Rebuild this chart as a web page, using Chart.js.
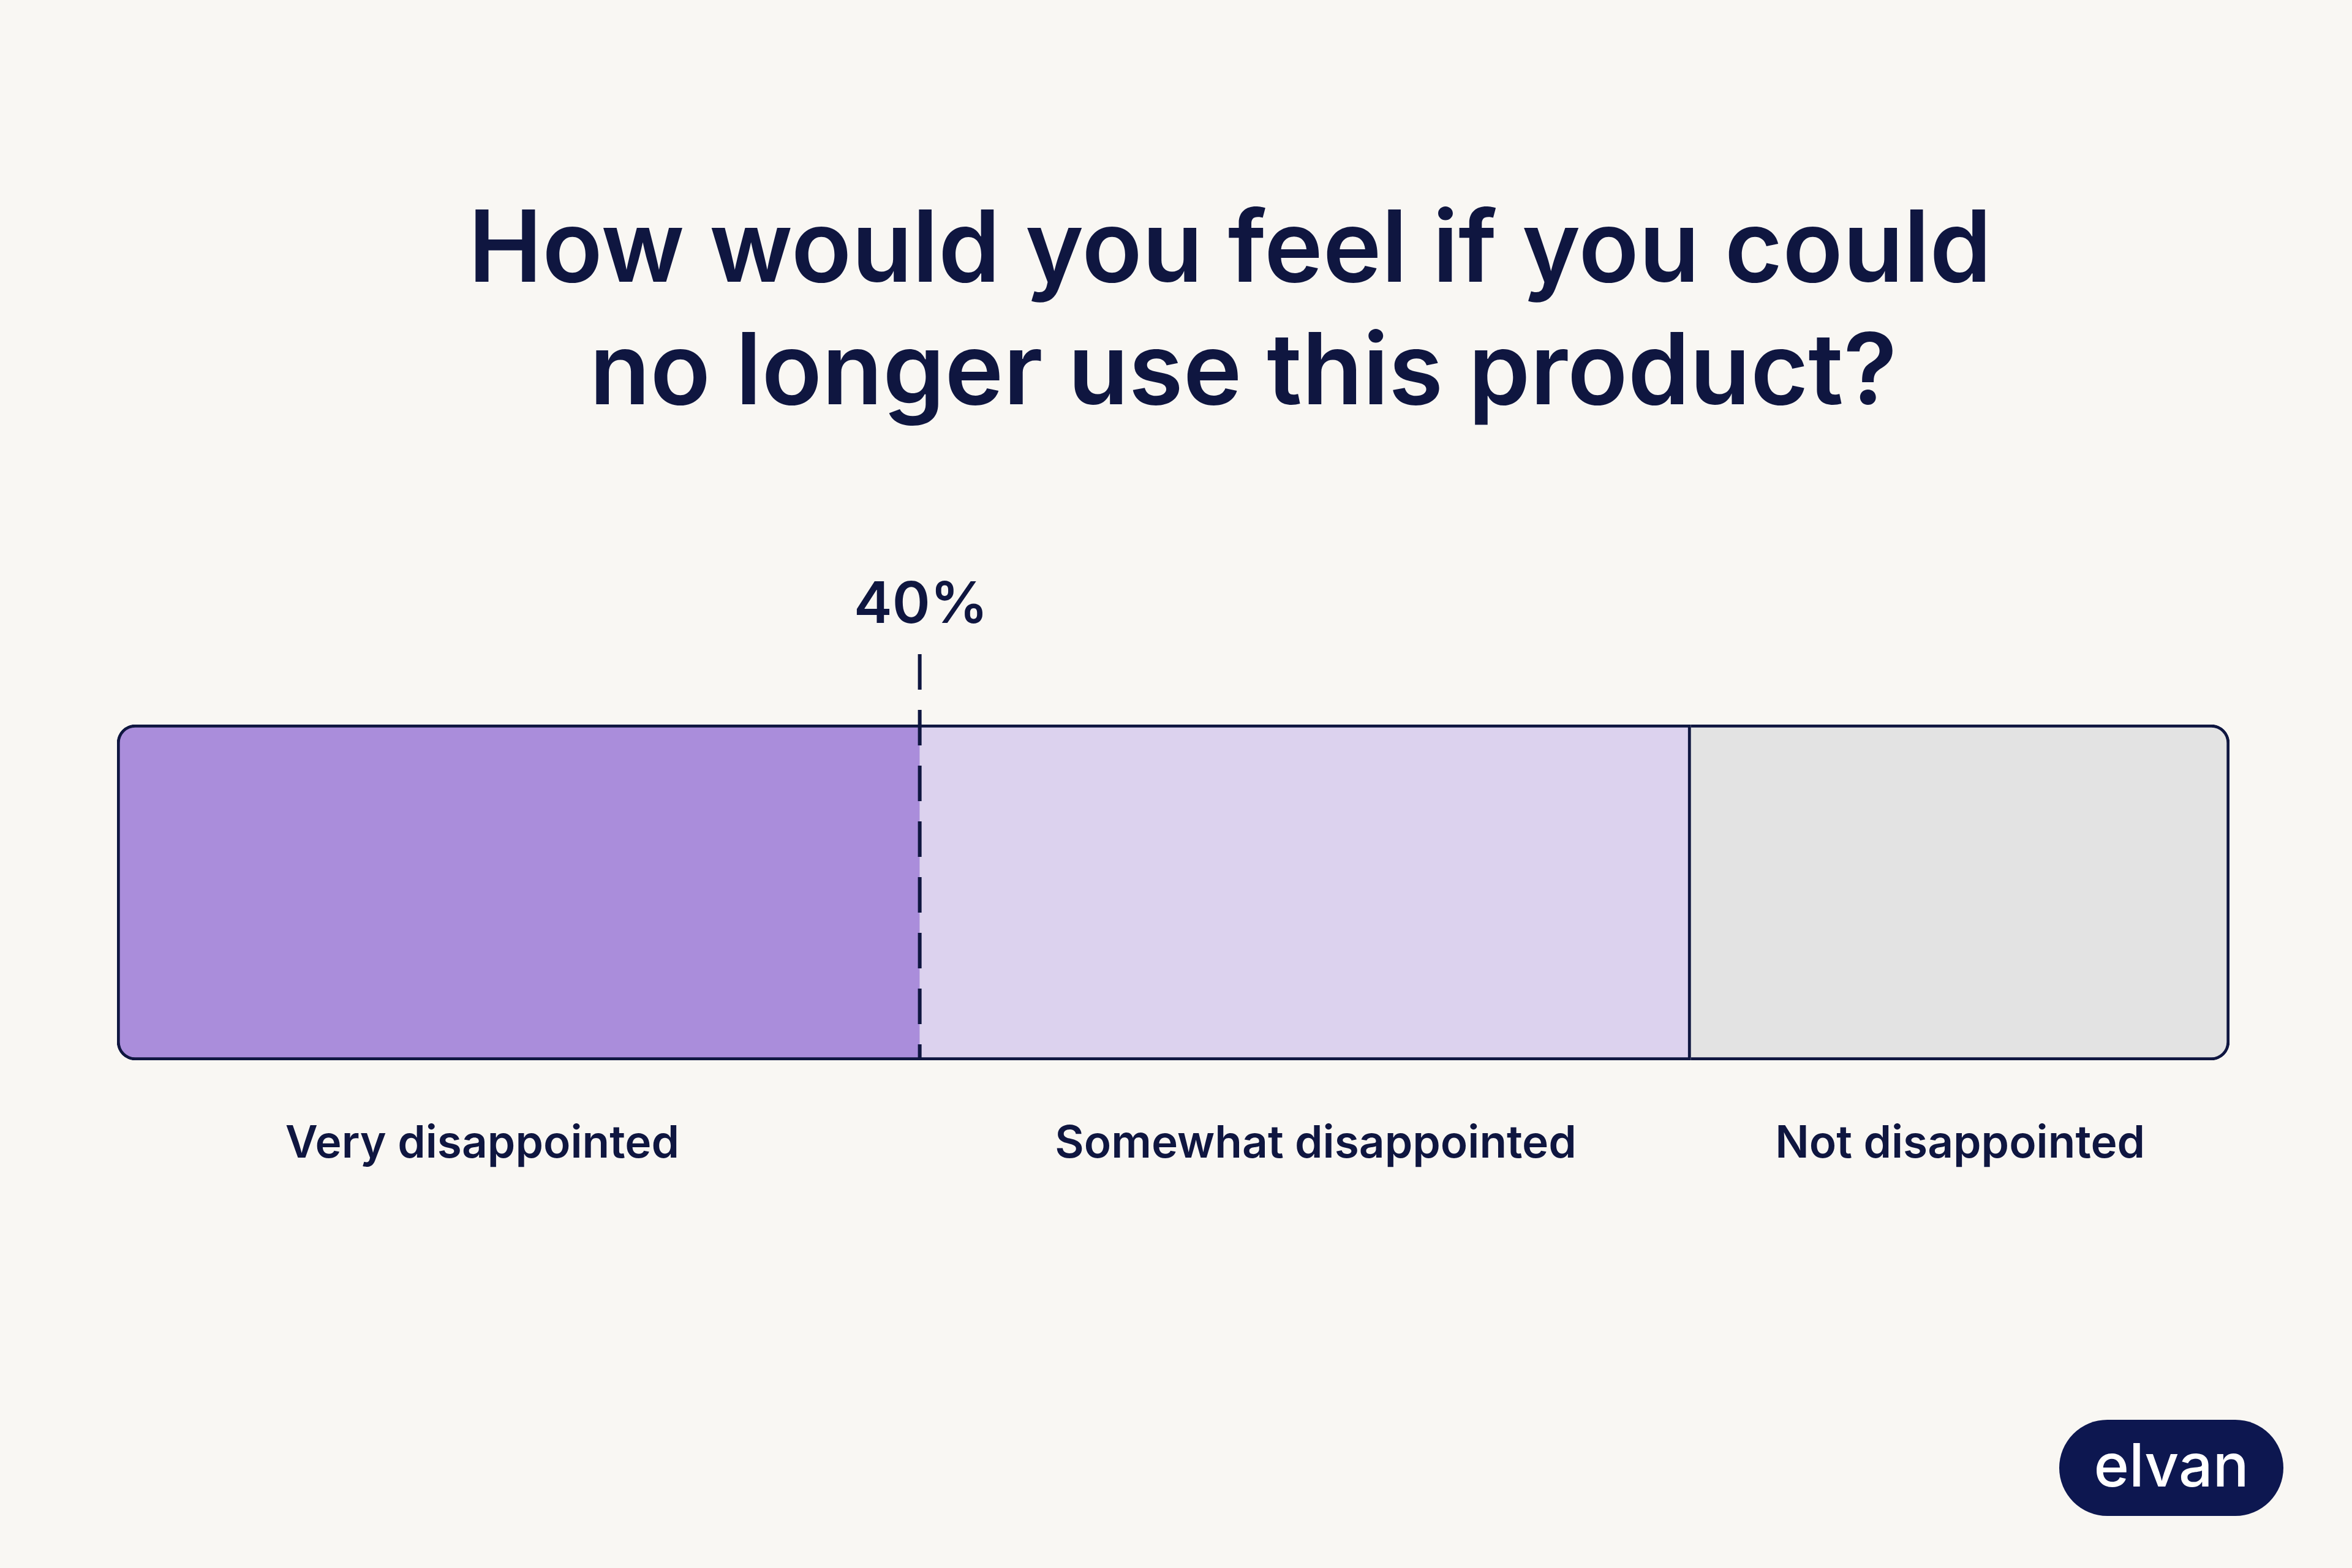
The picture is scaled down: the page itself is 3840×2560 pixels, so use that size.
<!DOCTYPE html>
<html>
<head>
<meta charset="utf-8">
<script src="https://cdn.jsdelivr.net/npm/chart.js@4.4.1/dist/chart.umd.min.js"></script>
<style>
  html, body { margin: 0; padding: 0; background: #f9f7f3; }
  canvas { display: block; }
</style>
</head>
<body>
<canvas id="pmfChart" width="3840" height="2560" style="width:3840px;height:2560px"></canvas>
<script>
const titleLines = ["How would you feel if you could", "no longer use this product?"];
const categories = ["Very disappointed", "Somewhat disappointed", "Not disappointed"];
const shares = [38, 36.5, 25.5];
const markerLabel = "40%";
const brand = "elvan";

const NAVY = "#0f1640";
const fills = ["#aa8ddb", "#dcd2ee", "#e3e3e3"];
const FONT = "Inter, 'Noto Sans', sans-serif";
// small nudges so the labels sit where the reference has them
const labelNudge = [-59, 17, 0];

// outer border around the whole bar, solid divider only between 2nd and 3rd part
const borders = [
  { top: 5, bottom: 5, left: 5, right: 0 },
  { top: 5, bottom: 5, left: 0, right: 5 },
  { top: 5, bottom: 5, left: 0, right: 5 },
];
const radii = [
  { topLeft: 30, bottomLeft: 30, topRight: 0, bottomRight: 0 },
  0,
  { topLeft: 0, bottomLeft: 0, topRight: 30, bottomRight: 30 },
];

const overlay = {
  id: "overlay",
  afterDraw(chart) {
    const ctx = chart.ctx;
    const area = chart.chartArea;
    const x = chart.scales.x;
    ctx.save();

    // title
    ctx.fillStyle = NAVY;
    ctx.textAlign = "center";
    ctx.textBaseline = "alphabetic";
    ctx.font = "600 162px " + FONT;
    ctx.fillText(titleLines[0], chart.width / 2 + 88, 460);
    ctx.fillText(titleLines[1], chart.width / 2 + 110, 660);

    // segment labels
    ctx.font = "600 73px " + FONT;
    categories.forEach((c, i) => {
      const bar = chart.getDatasetMeta(i).data[0];
      ctx.fillText(c, (bar.x + bar.base) / 2 + labelNudge[i], area.bottom + 159);
    });

    // dashed marker at the end of the first part
    const mx = x.getPixelForValue(shares[0]);
    ctx.strokeStyle = NAVY;
    ctx.lineWidth = 6;
    ctx.setLineDash([58, 33]);
    ctx.beginPath();
    ctx.moveTo(mx, area.top - 115);
    ctx.lineTo(mx, area.bottom);
    ctx.stroke();
    ctx.setLineDash([]);
    ctx.font = "600 94px " + FONT;
    ctx.fillText(markerLabel, mx + 2, area.top - 166);

    // logo pill
    const px = 3362, py = 2318, pw = 366, ph = 157;
    ctx.fillStyle = "#0d1750";
    ctx.beginPath();
    ctx.roundRect(px, py, pw, ph, ph / 2);
    ctx.fill();
    ctx.fillStyle = "#ffffff";
    ctx.font = "500 98px " + FONT;
    ctx.fillText(brand, px + pw / 2, 2427);

    ctx.restore();
  },
};

new Chart(document.getElementById("pmfChart"), {
  type: "bar",
  data: {
    labels: [""],
    datasets: categories.map((c, i) => ({
      label: c,
      data: [shares[i]],
      backgroundColor: fills[i],
      borderColor: NAVY,
      borderWidth: borders[i],
      borderRadius: radii[i],
      borderSkipped: false,
      barPercentage: 1,
      categoryPercentage: 1,
    })),
  },
  options: {
    indexAxis: "y",
    responsive: false,
    devicePixelRatio: 1,
    animation: false,
    layout: { padding: { left: 191, right: 200, top: 1183, bottom: 829 } },
    scales: {
      x: { stacked: true, min: 0, max: 100, display: false },
      y: { stacked: true, display: false },
    },
    plugins: {
      legend: { display: false },
      tooltip: { enabled: false },
    },
  },
  plugins: [overlay],
});
</script>
</body>
</html>
